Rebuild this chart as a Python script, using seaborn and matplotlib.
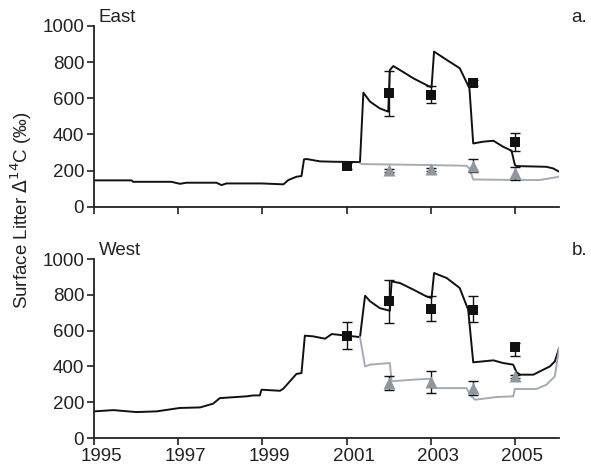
import matplotlib
matplotlib.use("Agg")
import matplotlib.pyplot as plt
import matplotlib.transforms as mtransforms
import seaborn as sns
import numpy as np

# ---- data ----
east_model_x = [1995.00, 1995.89, 1995.93, 1996.84, 1997.04, 1997.20, 1997.91, 1998.03, 1998.15,
                1998.98, 1999.50, 1999.62, 1999.81, 1999.93, 1999.99, 2000.05, 2000.37, 2000.68,
                2001.32, 2001.40, 2001.56, 2001.79, 2001.99, 2002.03, 2002.11, 2002.27, 2002.59,
                2002.90, 2003.02, 2003.08, 2003.38, 2003.69, 2003.92, 2004.01, 2004.25, 2004.49,
                2004.72, 2004.92, 2005.00, 2005.04, 2005.75, 2005.91, 2006.05]
east_model_y = [146, 146, 138, 138, 127, 133, 133, 120, 129,
                129, 124, 148, 166, 170, 262, 264, 251, 249,
                247, 631, 581, 544, 526, 756, 778, 756, 710,
                673, 660, 858, 812, 766, 655, 350, 360, 365,
                332, 310, 231, 225, 221, 212, 194]
east_ctrl_x = [2001.32, 2001.40, 2002.59, 2003.85, 2003.92, 2004.01, 2005.00, 2005.59, 2006.05]
east_ctrl_y = [240, 236, 232, 227, 212, 151, 148, 148, 166]

west_model_x = [1995.00, 1995.46, 1996.01, 1996.49, 1997.04, 1997.52, 1997.83, 1997.99, 1998.63,
                1998.78, 1998.94, 1998.98, 1999.42, 1999.50, 1999.81, 1999.93, 2000.01, 2000.21,
                2000.49, 2000.65, 2001.00, 2001.32, 2001.44, 2001.56, 2001.79, 2002.03, 2002.07,
                2002.27, 2002.59, 2002.90, 2003.02, 2003.08, 2003.38, 2003.69, 2003.89, 2004.01,
                2004.49, 2004.72, 2004.96, 2005.04, 2005.12, 2005.44, 2005.59, 2005.83, 2005.95,
                2006.05]
west_model_y = [149, 156, 145, 149, 168, 171, 192, 223, 233,
                238, 238, 270, 264, 276, 358, 363, 572, 568,
                555, 581, 572, 564, 795, 764, 726, 711, 875,
                866, 829, 791, 782, 922, 894, 838, 717, 423,
                434, 419, 410, 367, 354, 354, 372, 400, 428,
                503]
west_ctrl_x = [2001.32, 2001.44, 2001.56, 2002.03, 2002.07, 2002.59, 2002.98, 2003.02, 2003.85,
               2003.97, 2004.05, 2004.56, 2004.96, 2005.00, 2005.51, 2005.75, 2005.95, 2006.05]
west_ctrl_y = [564, 400, 410, 419, 317, 326, 331, 279, 279,
               233, 214, 229, 233, 274, 274, 298, 345, 503]

east_sq_year = [2001, 2002, 2003, 2004, 2005]
east_sq_val = [225, 631, 618, 686, 356]
east_sq_lo = [210, 504, 576, 670, 308]
east_sq_hi = [240, 753, 668, 702, 406]
east_tri_year = [2002, 2003, 2004, 2005]
east_tri_val = [203, 207, 227, 185]
east_tri_lo = [195, 199, 192, 148]
east_tri_hi = [211, 215, 262, 222]

west_sq_year = [2001, 2002, 2003, 2004, 2005]
west_sq_val = [572, 767, 723, 717, 507]
west_sq_lo = [499, 642, 652, 646, 460]
west_sq_hi = [648, 885, 791, 791, 531]
west_tri_year = [2002, 2003, 2004, 2005]
west_tri_val = [307, 313, 279, 345]
west_tri_lo = [269, 251, 241, 337]
west_tri_hi = [345, 372, 317, 353]

year_ticks = [1995, 1997, 1999, 2001, 2003, 2005]
val_ticks = [0, 200, 400, 600, 800, 1000]

BLACK = "#111111"
GRAY_LINE = "#a3acb4"
GRAY_MK = "#8e979f"
TXT = "#222222"

sns.set_theme(style="white")
plt.rcParams["font.family"] = ["Liberation Sans", "DejaVu Sans"]

fig = plt.figure(figsize=(5.91, 4.71), dpi=100)
ax1 = fig.add_axes([0.159, 0.561, 0.787, 0.384])
ax2 = fig.add_axes([0.159, 0.070, 0.787, 0.380])

panels = [
    (ax1, east_model_x, east_model_y, east_ctrl_x, east_ctrl_y,
     east_sq_year, east_sq_val, east_sq_lo, east_sq_hi,
     east_tri_year, east_tri_val, east_tri_lo, east_tri_hi, "East", "a."),
    (ax2, west_model_x, west_model_y, west_ctrl_x, west_ctrl_y,
     west_sq_year, west_sq_val, west_sq_lo, west_sq_hi,
     west_tri_year, west_tri_val, west_tri_lo, west_tri_hi, "West", "b."),
]

for (ax, mx, my, cx, cy, sy, sv, slo, shi, ty, tv, tlo, thi, name, tag) in panels:
    sns.lineplot(x=mx, y=my, ax=ax, color=BLACK, lw=1.4, sort=False, estimator=None)
    sns.lineplot(x=cx, y=cy, ax=ax, color=GRAY_LINE, lw=1.4, sort=False, estimator=None)
    sv_a = np.array(sv); tv_a = np.array(tv)
    ax.errorbar(ty, tv, yerr=[tv_a - np.array(tlo), np.array(thi) - tv_a], fmt="none",
                ecolor=BLACK, elinewidth=1.0, capsize=3.5, capthick=1.0, zorder=3)
    ax.errorbar(sy, sv, yerr=[sv_a - np.array(slo), np.array(shi) - sv_a], fmt="none",
                ecolor=BLACK, elinewidth=1.0, capsize=3.5, capthick=1.0, zorder=3)
    sns.scatterplot(x=ty, y=tv, ax=ax, marker="^", s=75, color=GRAY_MK, edgecolor=GRAY_MK,
                    linewidth=0, zorder=4)
    sns.scatterplot(x=sy, y=sv, ax=ax, marker="s", s=52, color=BLACK, edgecolor=BLACK,
                    linewidth=0, zorder=5)
    ax.set_xlim(1995, 2006.05)
    ax.set_ylim(0, 1000)
    ax.set_xticks(year_ticks)
    ax.set_yticks(val_ticks)
    ax.set_yticklabels([str(v) for v in val_ticks])
    for s in ["top", "right"]:
        ax.spines[s].set_visible(False)
    for s in ["left", "bottom"]:
        ax.spines[s].set_color(TXT)
        ax.spines[s].set_linewidth(1.3)
    ax.tick_params(axis="both", direction="out", length=5, width=1.2, color=TXT,
                   labelsize=13.5, labelcolor=TXT, left=True, bottom=True, pad=2)
    ax.set_xlabel("")
    ax.set_ylabel("")
    ax.text(0.01, 1.0, name, transform=ax.transAxes, fontsize=13.5, color=TXT,
            ha="left", va="bottom")
    ax.text(1.06, 1.0, tag, transform=ax.transAxes, fontsize=13.5, color=TXT,
            ha="right", va="bottom")

ax1.set_xticklabels([])
ax2.set_xticklabels([str(y) for y in year_ticks])
shift = mtransforms.ScaledTranslation(7 / 100, 0, fig.dpi_scale_trans)
for lab in ax2.get_xticklabels():
    lab.set_transform(lab.get_transform() + shift)

fig.text(0.036, 0.554, "Surface Litter $\\Delta^{14}$C (‰)", rotation=90, fontsize=13.5,
         color=TXT, ha="center", va="center")

fig.savefig("out.png", dpi=100)
